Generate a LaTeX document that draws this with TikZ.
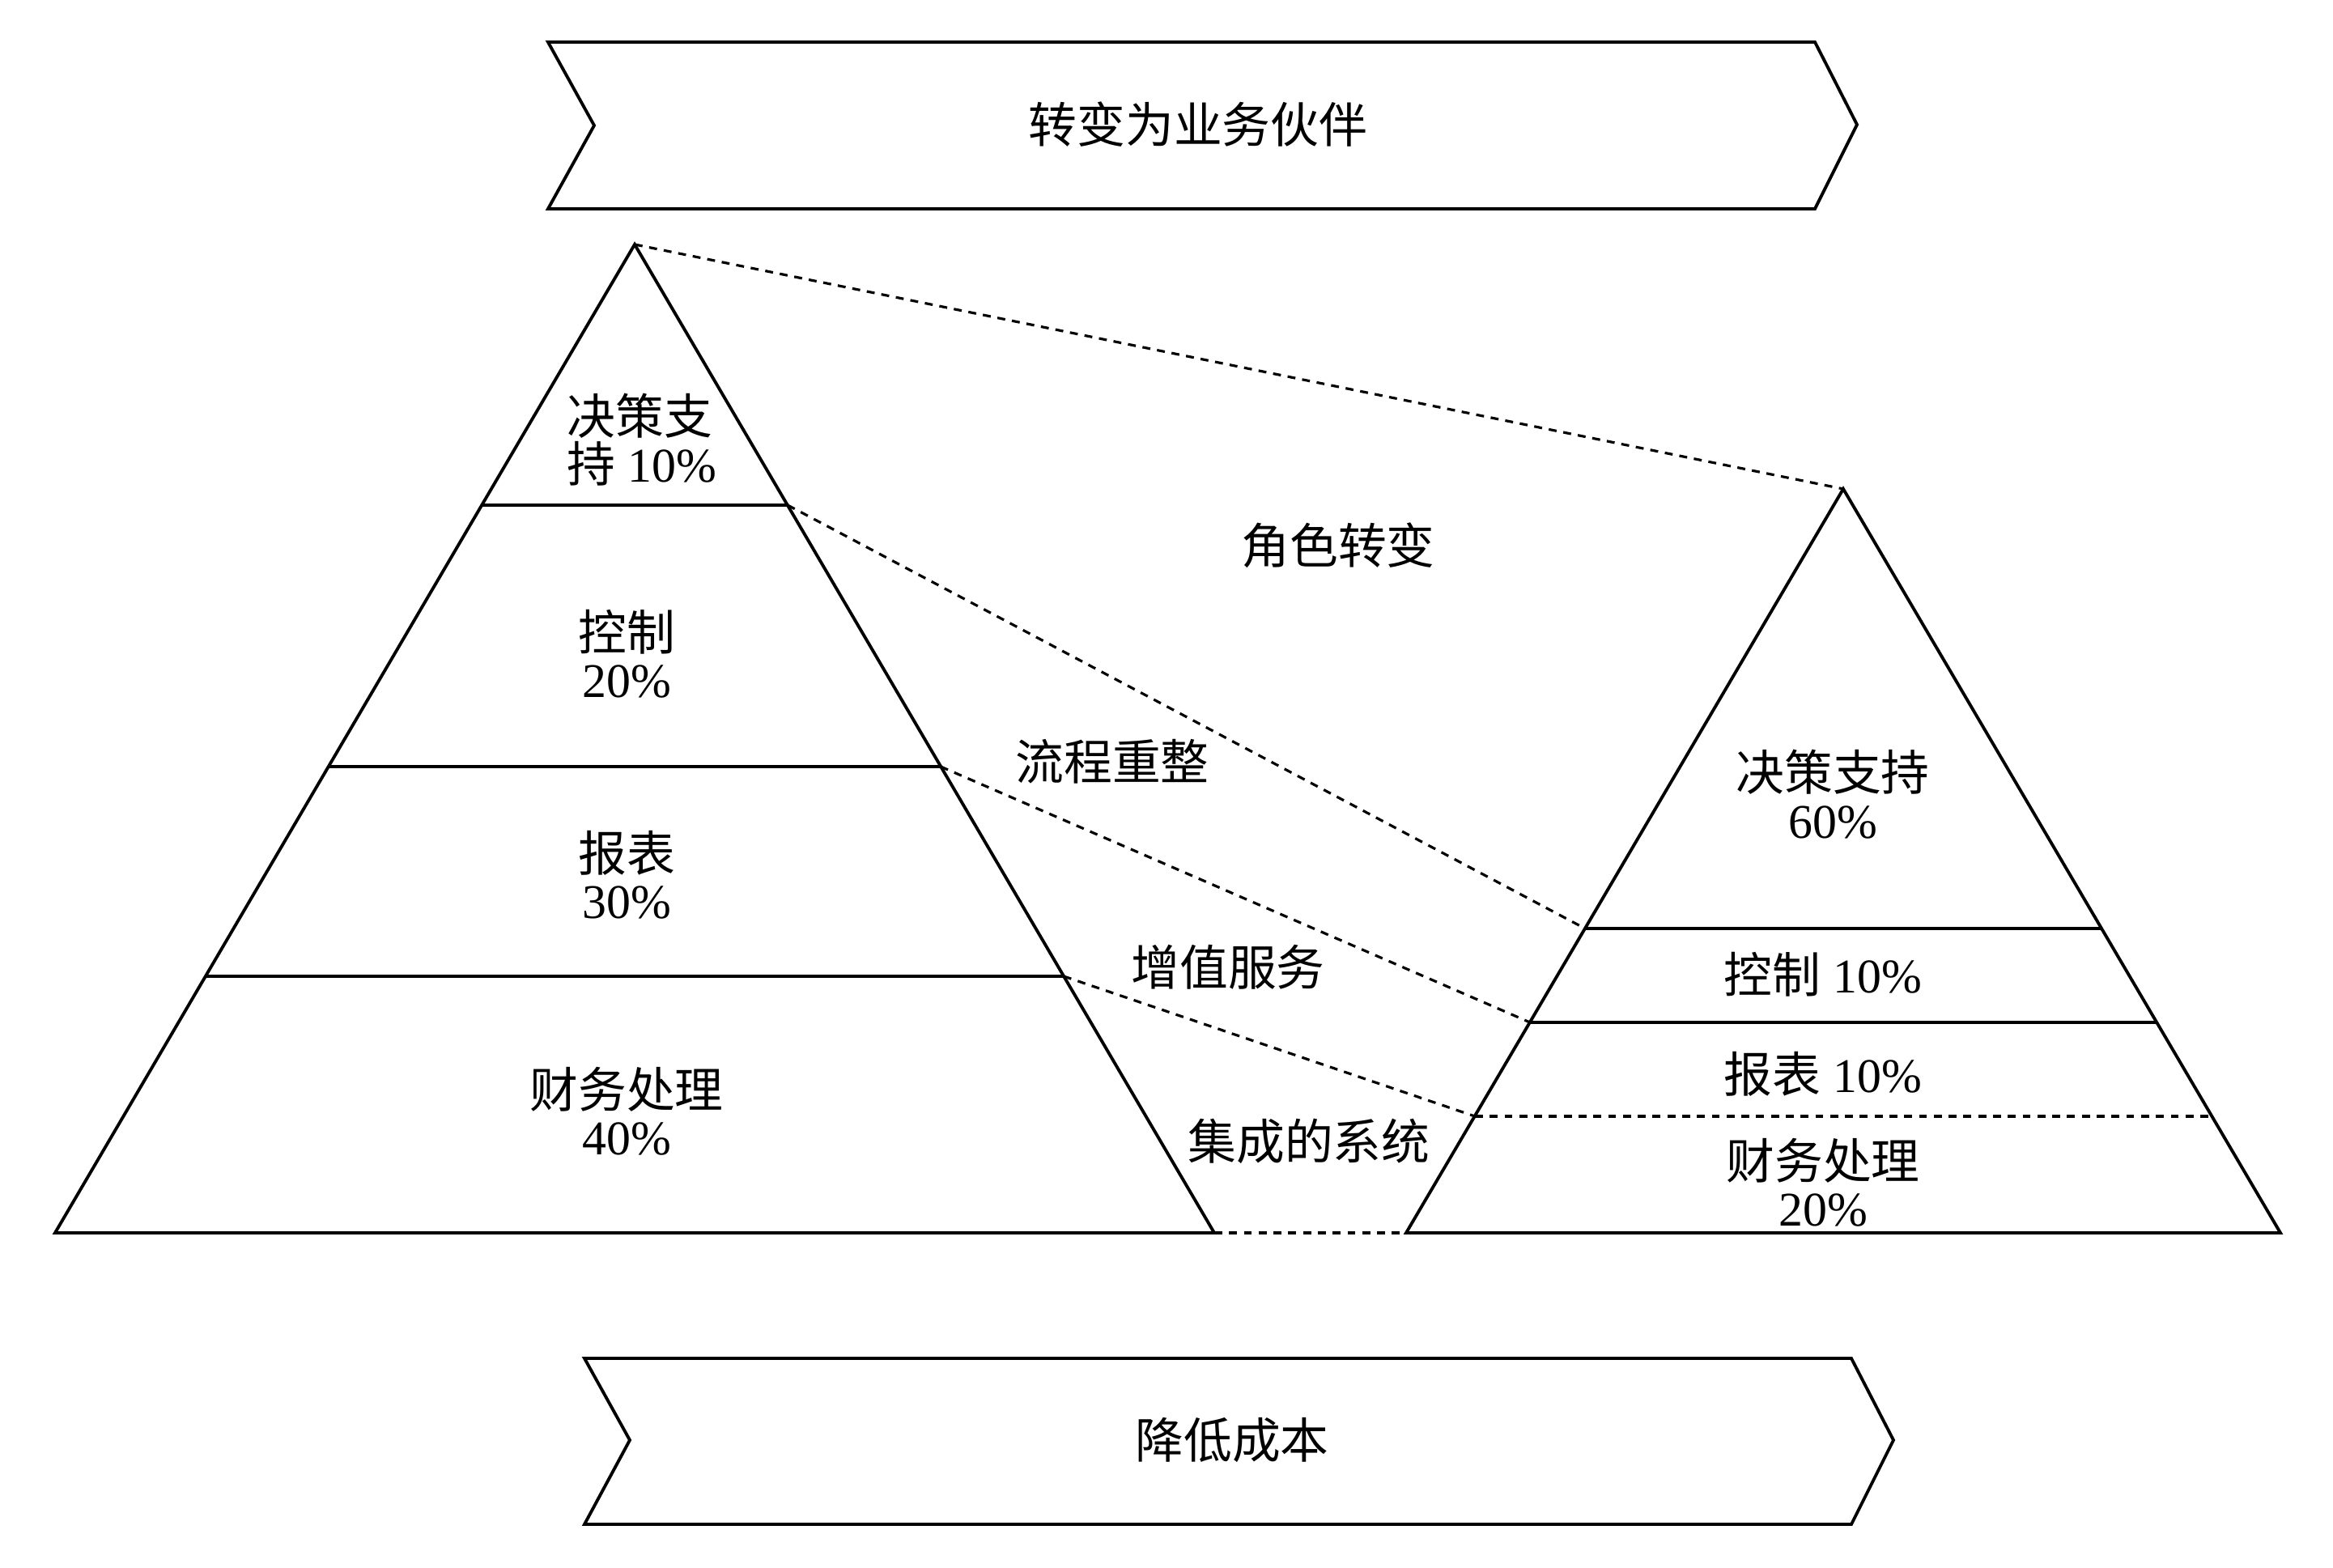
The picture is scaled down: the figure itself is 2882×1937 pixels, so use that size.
\documentclass[tikz,border=0pt]{standalone}
\usepackage{fontspec}
\setmainfont{Liberation Serif}
\newfontfamily\cjk{Noto Sans CJK SC}
\begin{document}
\begin{tikzpicture}[x=0.01cm,y=-0.01cm,
  solidln/.style={line width=1.1pt, line join=miter},
  dashln/.style={line width=0.9pt, dash pattern=on 2.8pt off 2.4pt},
  lbl/.style={font=\fontsize{17}{16.6}\selectfont, align=center, inner sep=0pt}]
\useasboundingbox (0,0) rectangle (2882,1937);
% chevrons
\draw[solidln] (677,52) -- (2242,52) -- (2294,154) -- (2242,258) -- (677,258) -- (734,155) -- cycle;
\draw[solidln] (722,1678) -- (2287,1678) -- (2339,1779) -- (2287,1883) -- (722,1883) -- (778,1779) -- cycle;
\node[lbl] (top) at (1480,154) {\cjk 转变为业务伙伴};
\node[lbl] (bot) at (1522,1779) {\cjk 降低成本};
% coordinates
\coordinate (LA) at (784,302);
\coordinate (LB1) at (595,624);  \coordinate (LE1) at (973,624);
\coordinate (LB2) at (406,947);  \coordinate (LE2) at (1162,947);
\coordinate (LB3) at (254,1206); \coordinate (LE3) at (1314,1206);
\coordinate (LBL) at (68,1523);  \coordinate (LBR) at (1500,1523);
\coordinate (RA) at (2277,604);
\coordinate (RB1) at (1958,1147); \coordinate (RE1) at (2596,1147);
\coordinate (RB2) at (1890,1263); \coordinate (RE2) at (2664,1263);
\coordinate (RB3) at (1822,1379); \coordinate (RE3) at (2732,1379);
\coordinate (RBL) at (1737,1523); \coordinate (RBR) at (2817,1523);
% pyramids
\draw[solidln] (LBL) -- (LA) -- (LBR) -- cycle;
\draw[solidln] (LB1) -- (LE1);
\draw[solidln] (LB2) -- (LE2);
\draw[solidln] (LB3) -- (LE3);
\draw[solidln] (RBL) -- (RA) -- (RBR) -- cycle;
\draw[solidln] (RB1) -- (RE1);
\draw[solidln] (RB2) -- (RE2);
\draw[dashln] (RB3) -- (RE3);
% dashed connectors
\draw[dashln] (LA) -- (RA);
\draw[dashln] (LE1) -- (RB1);
\draw[dashln] (LE2) -- (RB2);
\draw[dashln] (LE3) -- (RB3);
\draw[dashln] (LBR) -- (RBL);
% left labels
\node[lbl, align=left] (l1) at (793,543) {{\cjk 决策支}\\{\cjk 持} 10\%};
\node[lbl] (l2) at (774,808) {{\cjk 控制}\\20\%};
\node[lbl] (l3) at (774,1081) {{\cjk 报表}\\30\%};
\node[lbl] (l4) at (774,1373) {{\cjk 财务处理}\\40\%};
% middle labels
\node[lbl] (m1) at (1653,674) {\cjk 角色转变};
\node[lbl] (m2) at (1374,941) {\cjk 流程重整};
\node[lbl] (m3) at (1517,1195) {\cjk 增值服务};
\node[lbl] (m4) at (1617,1410) {\cjk 集成的系统};
% right labels
\node[lbl] (r1) at (2264,981) {{\cjk 决策支持}\\60\%};
\node[lbl] (r2) at (2252,1204) {{\cjk 控制} 10\%};
\node[lbl] (r3) at (2252,1327) {{\cjk 报表} 10\%};
\node[lbl] (r4) at (2252,1461) {{\cjk 财务处理}\\20\%};
\end{tikzpicture}
\end{document}
